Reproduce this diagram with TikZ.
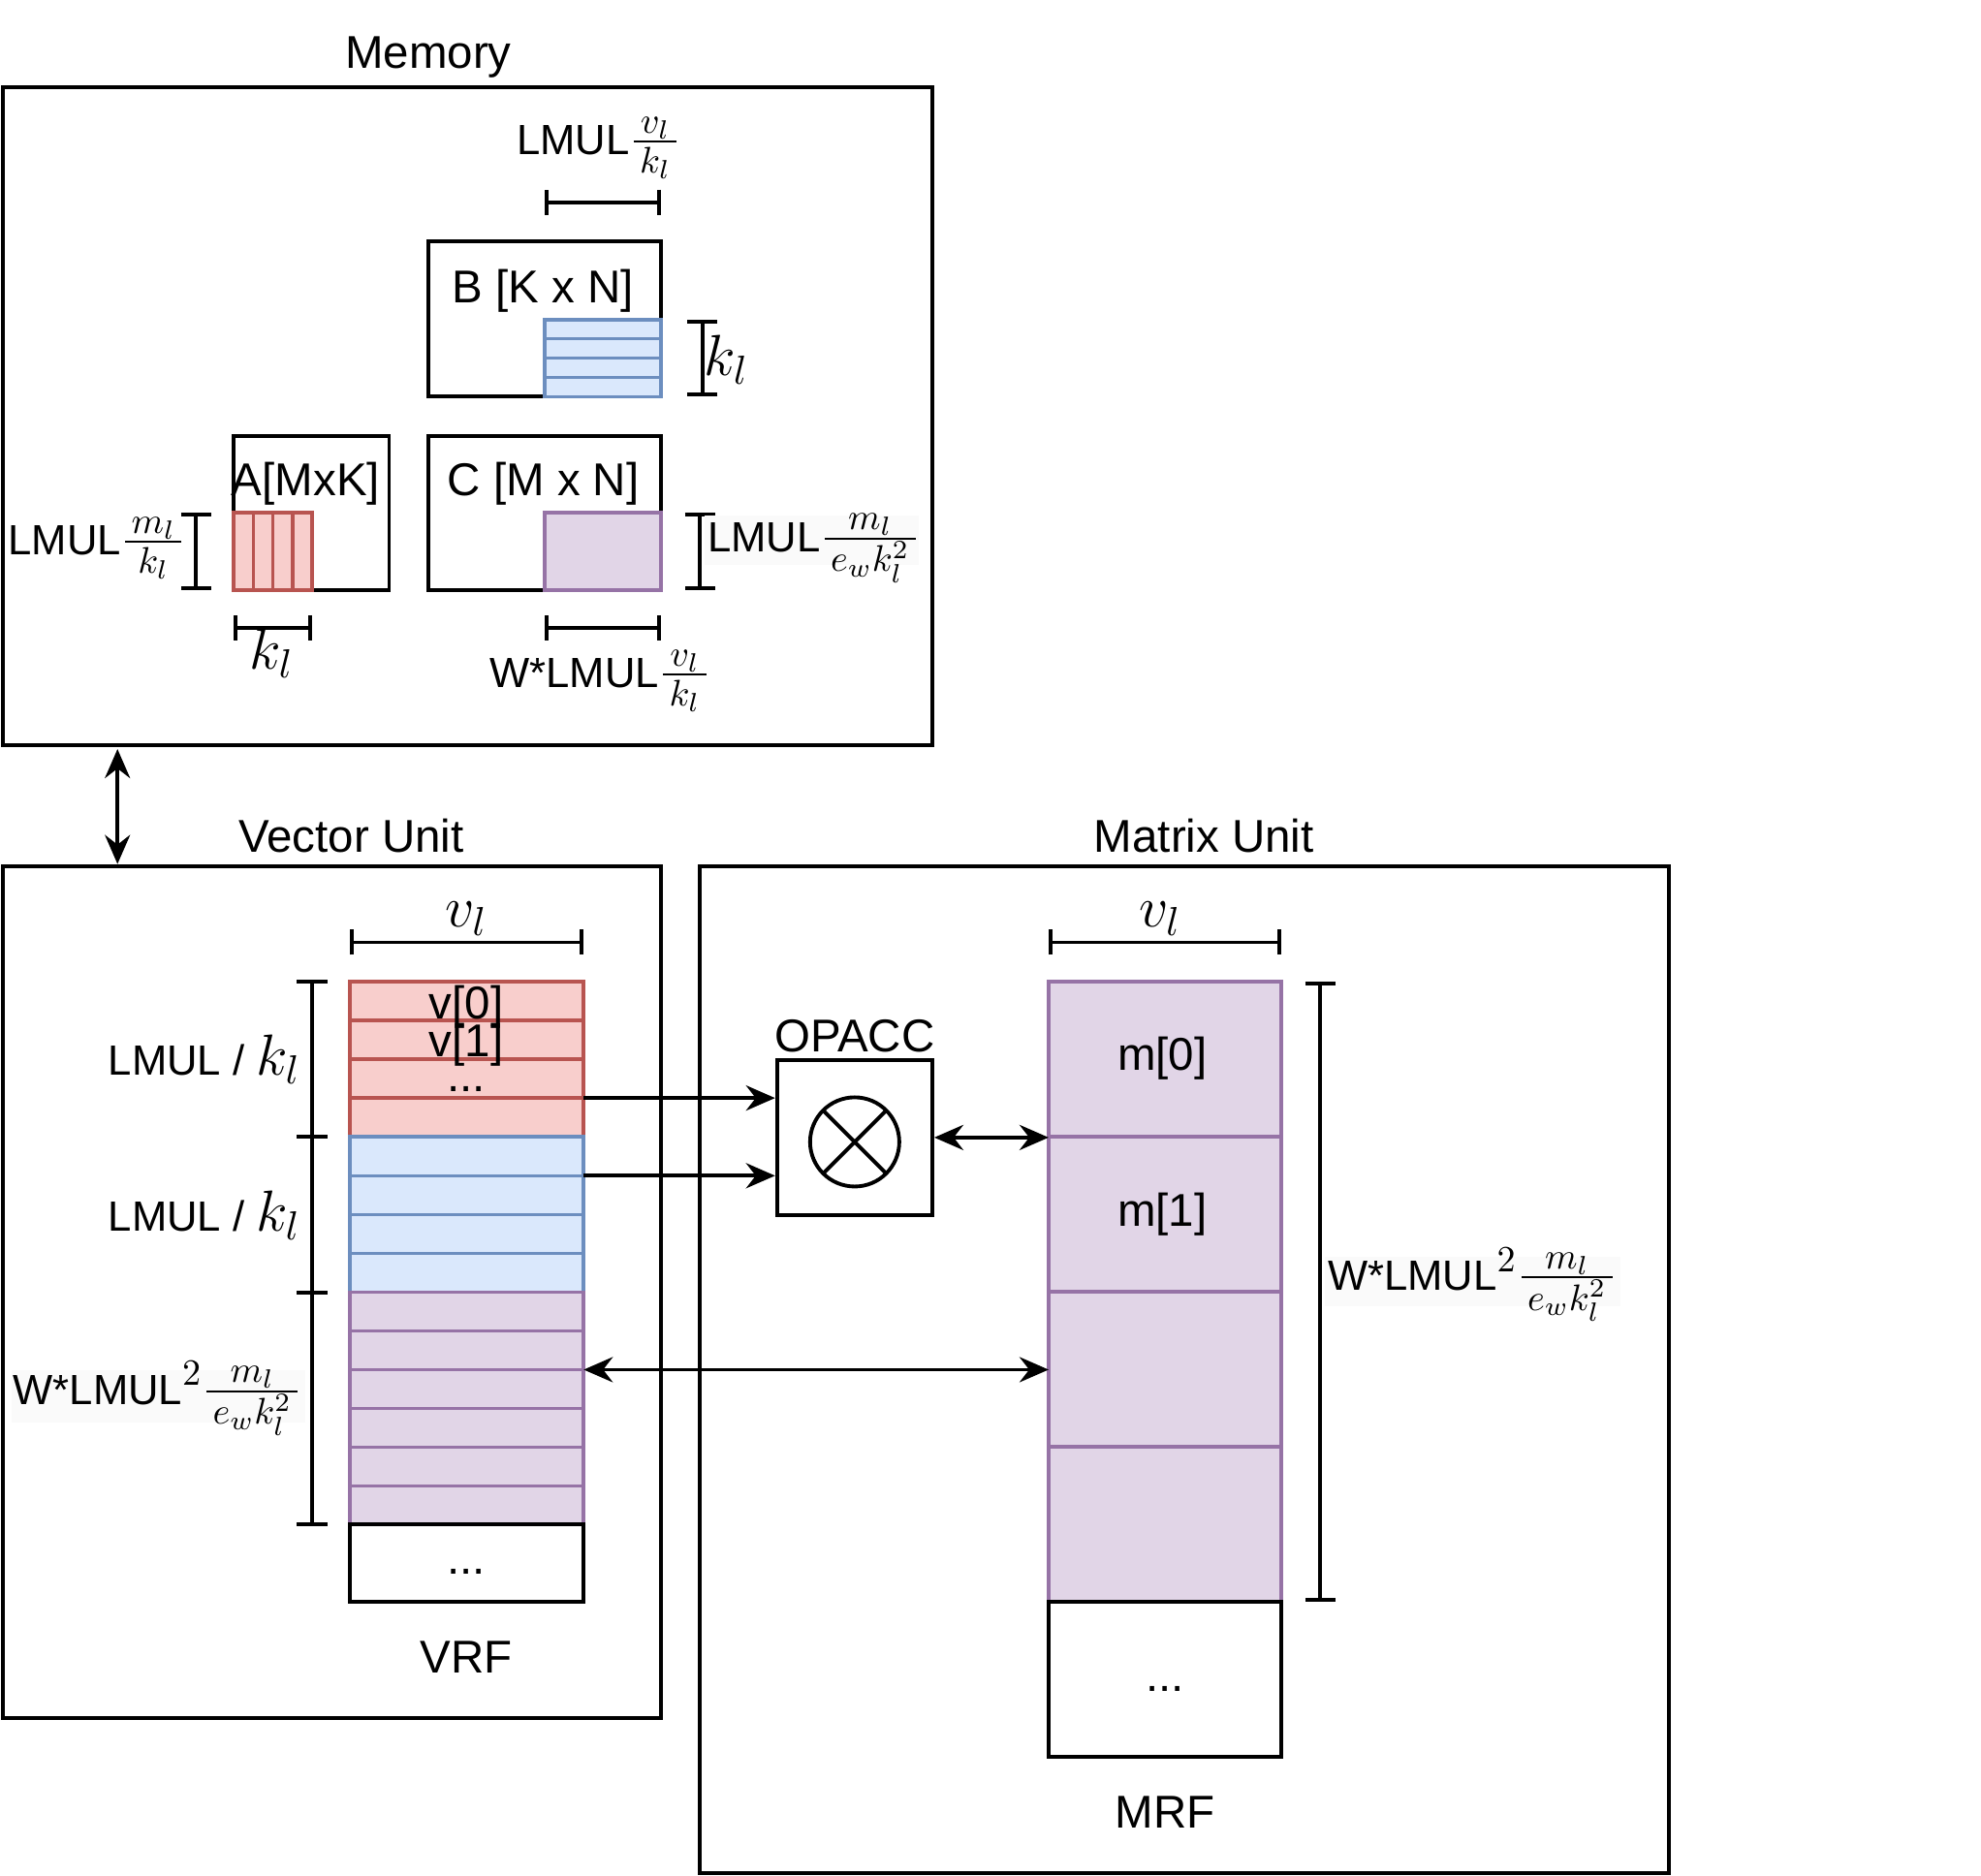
\RequirePackage{fix-cm}
\documentclass[tikz,border=0pt]{standalone}
\usepackage{fontspec}
\setmainfont{Liberation Sans}
\usepackage{amsmath}
\usetikzlibrary{arrows.meta}

\definecolor{redfill}{HTML}{F8CECC}
\definecolor{redline}{HTML}{B85450}
\definecolor{bluefill}{HTML}{DAE8FC}
\definecolor{blueline}{HTML}{6C8EBF}
\definecolor{purplefill}{HTML}{E1D5E7}
\definecolor{purpleline}{HTML}{9673A6}
\definecolor{labelbg}{HTML}{FAFAFA}

% math a bit larger than the text around it
\newcommand{\bigmath}[1]{{\fontsize{15.5}{18}\selectfont$#1$}}
\newcommand{\symmath}[1]{{\fontsize{17}{20}\selectfont$#1$}}

\begin{document}
\begin{tikzpicture}[x=0.013036cm, y=-0.013036cm, line width=1.1pt,
    every node/.style={font=\fontsize{13.5}{16}\selectfont, inner sep=1pt},
    sizelabel/.style={font=\fontsize{12.4}{14}\selectfont},
    >={Stealth[length=0.3cm, width=0.26cm, inset=0.1cm]},
    dim/.style={{Bar[width=0.26cm]}-{Bar[width=0.26cm]}},
    vdim/.style={{Bar[width=0.31cm]}-{Bar[width=0.31cm]}},
    redrow/.style={fill=redfill, draw=redline, line width=1pt},
    bluerow/.style={fill=bluefill, draw=blueline, line width=1pt},
    purplerow/.style={fill=purplefill, draw=purpleline, line width=1pt}]

  \useasboundingbox (0,0) rectangle (1568,1485);

  % Memory
  \node (memtitle) at (339,45) {Memory};
  \draw (2,69) rectangle (738,590);

  % B [K x N] with its tile
  \draw (339,191) rectangle (523,314);
  \node (bname) at (430,230) {B [K x N]};
  \draw[bluerow] (431,253) rectangle (523,314);
  \foreach \y in {268.25,283.5,298.75}
    \draw[blueline, line width=1pt] (431,\y) -- (523,\y);
  \draw[dim] (431,160) -- (523,160);
  \node[sizelabel] (bwidth) at (474,117) {LMUL\bigmath{\frac{\,v_l\,}{\,k_l\,}}};
  \draw[vdim] (556,253) -- (556,314);
  \node (bheight) at (575,285) {\symmath{k_l}};

  % A[MxK] with its tile
  \draw (185,345) rectangle (308,467);
  \node (aname) at (242,383) {A[MxK]};
  \draw[redrow] (185,406) rectangle (247,467);
  \foreach \x in {200.5,216,231.5}
    \draw[redline, line width=1pt] (\x,406) -- (\x,467);
  \draw[vdim] (155,406) -- (155,467);
  \node[sizelabel, anchor=east] (aheight) at (151,434) {LMUL\bigmath{\frac{\,m_l\,}{\,k_l\,}}};
  \draw[dim] (185,497) -- (247,497);
  \node (awidth) at (215,517) {\symmath{k_l}};

  % C [M x N] with its tile
  \draw (339,345) rectangle (523,467);
  \node (cname) at (430,383) {C [M x N]};
  \draw[purplerow] (431,406) rectangle (523,467);
  \draw[vdim] (554,406) -- (554,467);
  \fill[labelbg] (558,408) rectangle (727,447);
  \node[sizelabel, anchor=west] (cheight) at (556,434) {LMUL\bigmath{\frac{\,m_l\,}{\,e_wk_l^2\,}}};
  \draw[dim] (431,497) -- (523,497);
  \node[sizelabel] (cwidth) at (475,539) {W*LMUL\bigmath{\frac{\,v_l\,}{\,k_l\,}}};

  % Memory <-> Vector Unit
  \coordinate (memport) at (93,593);
  \coordinate (vecport) at (93,684);
  \draw[<->] (memport) -- (vecport);

  % Vector Unit
  \node (vectitle) at (278,662) {Vector Unit};
  \draw (2,686) rectangle (523,1360);

  % VRF rows
  \draw[dim] (277,746) -- (462,746);
  \node (vrfwidth) at (369,727) {\symmath{v_l}};
  \foreach \i in {0,...,3}
    \draw[redrow] (277,{777+30.75*\i}) rectangle ++(185,30.75);
  \foreach \i in {0,...,3}
    \draw[bluerow] (277,{900+30.75*\i}) rectangle ++(185,30.75);
  \foreach \i in {0,...,5}
    \draw[purplerow] (277,{1023+30.67*\i}) rectangle ++(185,30.67);
  \draw (277,1207) rectangle (462,1268);
  \node (vzero) at (369,797) {v[0]};
  \node (vone) at (369,827) {v[1]};
  \node (vdots) at (369,862) {...};
  \node (vrest) at (369,1244) {...};
  \node (vrfname) at (369,1312) {VRF};

  % VRF brackets
  \draw (247,777) -- (247,1207);
  \foreach \y in {777,900,1023,1207}
    \draw (235,\y) -- (259,\y);
  \node[sizelabel, anchor=east] (redsize) at (242,839) {LMUL / \symmath{k_l}};
  \node[sizelabel, anchor=east] (bluesize) at (242,962) {LMUL / \symmath{k_l}};
  \fill[labelbg] (9,1085) rectangle (242,1126);
  \node[sizelabel, anchor=east] (purplesize) at (243,1107) {W*LMUL\bigmath{^2\frac{\,m_l\,}{\,e_wk_l^2\,}}};

  % Matrix Unit
  \node (mattitle) at (953,662) {Matrix Unit};
  \draw (554,686) rectangle (1321,1483);

  % OPACC
  \node[draw, minimum size=1.603cm, inner sep=0pt, label={[inner sep=1pt]above:OPACC}] (opacc) at (676.5,900.5) {};
  \draw (676.5,904) circle[radius=0.46cm];
  \draw (676.5,904) ++(-24.7,-24.7) -- ++(49.4,49.4);
  \draw (676.5,904) ++(-24.7,24.7) -- ++(49.4,-49.4);

  % MRF rows
  \draw[dim] (830,746) -- (1014,746);
  \node (mrfwidth) at (918,727) {\symmath{v_l}};
  \foreach \i in {0,...,3}
    \draw[purplerow] (830,{777+122.75*\i}) rectangle ++(184,122.75);
  \draw (830,1268) rectangle (1014,1391);
  \node (mzero) at (920,838) {m[0]};
  \node (mone) at (920,961) {m[1]};
  \node (mrest) at (922,1337) {...};
  \node (mrfname) at (922,1435) {MRF};
  \draw[vdim] (1045,777) -- (1045,1268);
  \fill[labelbg] (1049,995) rectangle (1283,1034);
  \node[sizelabel, anchor=west] (mrfsize) at (1047,1017) {W*LMUL\bigmath{^2\frac{\,m_l\,}{\,e_wk_l^2\,}}};

  % Connections
  \coordinate (vrow3) at (462,869.25);
  \coordinate (vrow5) at (462,930.75);
  \coordinate (vrow10) at (462,1084.3);
  \coordinate (mrow1) at (830,900.5);
  \coordinate (mrow2) at (830,1084.3);
  \draw[->] (vrow3) -- (vrow3 -| opacc.west);
  \draw[->] (vrow5) -- (vrow5 -| opacc.west);
  \draw[<->] (opacc.east) -- (mrow1);
  \draw[<->] (vrow10) -- (mrow2);

\end{tikzpicture}
\end{document}
